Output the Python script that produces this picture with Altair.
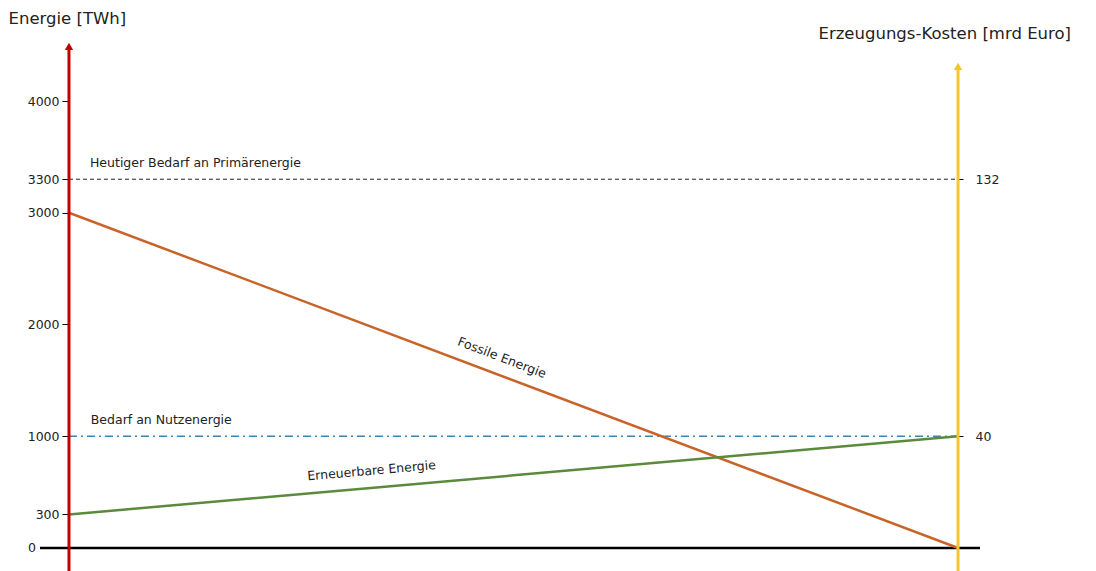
import altair as alt
import pandas as pd

# ---- data ----
x_ends = [0, 1]
fossil = [3000, 0]
renewable = [300, 1000]
primary_demand = [3300]
useful_demand = [1000]
left_ticks = [300, 1000, 2000, 3000, 3300, 4000]
zero_tick = [0]
right_ticks_energy = [1000, 3300]   # shown as cost 40 / 132
cost_factor = 0.04
y_min, y_max = -206, 4546
x_min, x_max = -0.0326, 1.0247
red_top = 4515
yellow_top = 4335

FONT = "DejaVu Sans"
W, H = 940, 531
TICK_FS = 12.5
LAB_FS = 12.5
TITLE_FS = 16.5

xs = alt.Scale(domain=[x_min, x_max], nice=False, zero=False)
ys = alt.Scale(domain=[y_min, y_max], nice=False, zero=False)

df_f = pd.DataFrame({"x": x_ends, "e": fossil})
df_r = pd.DataFrame({"x": x_ends, "e": renewable})

left_axis = alt.Axis(
    values=left_ticks, format="d", offset=-29, domain=False, grid=False,
    tickColor="black", tickSize=7, tickWidth=1, labelPadding=3,
    labelFont=FONT, labelFontSize=TICK_FS, labelColor="#222",
    title="Energie [TWh]", titleAngle=0, titleAlign="left", titleBaseline="middle",
    titleX=-61, titleY=-22, titleFont=FONT, titleFontSize=TITLE_FS,
    titleFontWeight="normal", titleColor="#222",
)
right_axis = alt.Axis(
    orient="right", values=right_ticks_energy, offset=-22, domain=False, grid=False,
    tickColor="black", tickSize=5, tickWidth=1, labelPadding=12,
    labelExpr=f"format(datum.value*{cost_factor}, 'd')",
    labelFont=FONT, labelFontSize=TICK_FS, labelColor="#222",
    title="Erzeugungs-Kosten [mrd Euro]", titleAngle=0, titleAlign="left",
    titleBaseline="middle", titleX=-140, titleY=-7, titleFont=FONT,
    titleFontSize=TITLE_FS, titleFontWeight="normal", titleColor="#222",
)

base = alt.Chart(pd.DataFrame({"a": [0]}))

# horizontal zero line spanning plot (carries left axis)
zero_line = base.mark_rule(color="black", strokeWidth=2.5).encode(
    y=alt.Y("z:Q", scale=ys, axis=left_axis)
).transform_calculate(z="0")

zero_label = alt.Chart(pd.DataFrame({"x": [x_min], "e": zero_tick, "t": ["0"]})).mark_text(
    align="right", baseline="middle", dx=-4, font=FONT, fontSize=TICK_FS, color="#222"
).encode(x=alt.X("x:Q", scale=xs, axis=None), y=alt.Y("e:Q", scale=ys, axis=None), text="t:N")

# red left arrow
red_line = base.mark_rule(color="#c00000", strokeWidth=3).encode(
    x=alt.X("xx:Q", scale=xs, axis=None),
    y=alt.Y("y1:Q", scale=ys, axis=None),
    y2="y2:Q",
).transform_calculate(xx="0", y1=str(y_min), y2=str(red_top - 20))
red_head = base.mark_point(shape="triangle-up", filled=True, color="#c00000", size=70, opacity=1).encode(
    x=alt.X("xx:Q", scale=xs, axis=None),
    y=alt.Y("yy:Q", scale=ys, axis=None),
).transform_calculate(xx="0", yy=str(red_top - 25))

# yellow right arrow (carries right axis)
yellow_line = base.mark_rule(color="#f7c52b", strokeWidth=3).encode(
    x=alt.X("xx:Q", scale=xs, axis=None),
    y=alt.Y("y1:Q", scale=ys, axis=right_axis),
    y2="y2:Q",
).transform_calculate(xx="1", y1=str(y_min), y2=str(yellow_top - 20))
yellow_head = base.mark_point(shape="triangle-up", filled=True, color="#f7c52b", size=70, opacity=1).encode(
    x=alt.X("xx:Q", scale=xs, axis=None),
    y=alt.Y("yy:Q", scale=ys, axis=None),
).transform_calculate(xx="1", yy=str(yellow_top - 25))

# demand lines
df_p = pd.DataFrame({"x": [0], "x2": [1], "e": primary_demand})
df_u = pd.DataFrame({"x": [0], "x2": [1], "e": useful_demand})
prim = alt.Chart(df_p).mark_rule(color="#222", strokeWidth=1, strokeDash=[4, 3]).encode(
    x=alt.X("x:Q", scale=xs, axis=None), x2="x2:Q", y=alt.Y("e:Q", scale=ys, axis=None)
)
useful = alt.Chart(df_u).mark_rule(color="#3a86b8", strokeWidth=1.6, strokeDash=[8, 4, 2, 4]).encode(
    x=alt.X("x:Q", scale=xs, axis=None), x2="x2:Q", y=alt.Y("e:Q", scale=ys, axis=None)
)

fossil_line = alt.Chart(df_f).mark_line(color="#c8642a", strokeWidth=2.5).encode(
    x=alt.X("x:Q", scale=xs, axis=None), y=alt.Y("e:Q", scale=ys, axis=None)
)
renew_line = alt.Chart(df_r).mark_line(color="#5b8a3c", strokeWidth=2.5).encode(
    x=alt.X("x:Q", scale=xs, axis=None), y=alt.Y("e:Q", scale=ys, axis=None)
)

# labels
lab_df = pd.DataFrame({
    "t": ["Heutiger Bedarf an Primärenergie", "Bedarf an Nutzenergie"],
    "x": [0.0236, 0.0245],
    "e": [primary_demand[0], useful_demand[0]],
})
labels = alt.Chart(lab_df).mark_text(
    align="left", baseline="middle", dy=-16, font=FONT, fontSize=LAB_FS, color="#222"
).encode(x=alt.X("x:Q", scale=xs, axis=None), y=alt.Y("e:Q", scale=ys, axis=None), text="t:N")

fx = 0.48
fos_lab = alt.Chart(pd.DataFrame({"x": [fx], "e": [fossil[0] * (1 - fx)], "t": ["Fossile Energie"]})).mark_text(
    align="center", baseline="middle", angle=21, dy=-17, font=FONT, fontSize=LAB_FS, color="#222"
).encode(x=alt.X("x:Q", scale=xs, axis=None), y=alt.Y("e:Q", scale=ys, axis=None), text="t:N")

rx = 0.342
ren_lab = alt.Chart(pd.DataFrame({"x": [rx], "e": [renewable[0] + (renewable[1] - renewable[0]) * rx], "t": ["Erneuerbare Energie"]})).mark_text(
    align="center", baseline="middle", angle=355, dy=-17, font=FONT, fontSize=LAB_FS, color="#222"
).encode(x=alt.X("x:Q", scale=xs, axis=None), y=alt.Y("e:Q", scale=ys, axis=None), text="t:N")

chart = alt.layer(
    zero_line, prim, useful, fossil_line, renew_line,
    red_line, red_head, yellow_line, yellow_head,
    labels, fos_lab, ren_lab, zero_label,
).resolve_axis(y="independent").properties(
    width=W, height=H,
    padding={"left": 40, "top": 40, "right": 116, "bottom": 0},
    autosize=alt.AutoSizeParams(type="none"),
    background="white",
).configure_view(stroke=None)

chart.save("out.html", embed_options={"renderer": "svg", "actions": False})
